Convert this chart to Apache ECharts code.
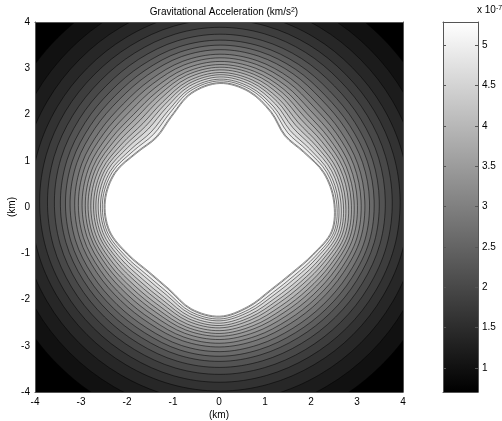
<!DOCTYPE html>
<html>
<head>
<meta charset="utf-8">
<script src="https://cdn.jsdelivr.net/npm/echarts@6/dist/echarts.min.js"></script>
<style>html,body{margin:0;padding:0;background:#fff}#c{width:502px;height:421px}</style>
</head>
<body>
<div id="c"></div>
<script>
// ---- data ----
const xTicks = [-4, -3, -2, -1, 0, 1, 2, 3, 4];
const yTicks = [-4, -3, -2, -1, 0, 1, 2, 3, 4];
const colorTicks = [1, 1.5, 2, 2.5, 3, 3.5, 4, 4.5, 5];
const colorRange = [0.70, 5.29];           // colour axis (x 10^-7 km/s^2)
const levels = [1.0, 1.2, 1.4, 1.6, 1.8, 2.0, 2.2, 2.4, 2.6, 2.8, 3.0,
                3.2, 3.4, 3.6, 3.8, 4.0, 4.2, 4.4, 4.6, 4.8, 5.0, 5.2];
// distance (km) of each contour from the body centre, along the axes
const levelRadius = [5.00, 4.64, 4.35, 4.11, 3.92, 3.75, 3.60, 3.47, 3.36, 3.26, 3.16,
                     3.08, 3.00, 2.93, 2.87, 2.81, 2.75, 2.70, 2.65, 2.60, 2.56, 2.52];
// how much of the body outline each contour still follows (1 = hugs body, 0 = circle)
const shapeWeight = [0.02, 0.03, 0.05, 0.07, 0.10, 0.13, 0.16, 0.20, 0.25, 0.29, 0.34,
                     0.39, 0.44, 0.50, 0.56, 0.62, 0.68, 0.74, 0.80, 0.87, 0.93, 1.00];
const bodyCenter = [0.02, 0.13];
const bodyAxisRadius = 2.5;
const bodyAngles = [0, 15, 30, 45, 60, 75, 90, 105, 120, 135, 150, 165,
                    180, 195, 210, 225, 240, 255, 270, 285, 300, 315, 330, 345];
const bodyRadius = [2.47, 2.33, 2.10, 1.99, 2.21, 2.44, 2.54, 2.40, 2.10, 1.94, 2.08, 2.35,
                    2.49, 2.48, 2.30, 2.17, 2.20, 2.41, 2.49, 2.36, 2.21, 2.20, 2.32, 2.51];

const FONT = '"Liberation Sans", Arial, Helvetica, sans-serif';
const chart = echarts.init(document.getElementById('c'));

function grayOf(v) {
  const t = (v - colorRange[0]) / (colorRange[1] - colorRange[0]);
  const c = Math.round(255 * Math.max(0, Math.min(1, t)));
  return 'rgb(' + c + ',' + c + ',' + c + ')';
}
function ringPoints(api, radiusAt) {
  return bodyAngles.map(function (a, j) {
    const t = a * Math.PI / 180;
    const r = radiusAt(j);
    return api.coord([bodyCenter[0] + r * Math.cos(t), bodyCenter[1] + r * Math.sin(t)]);
  });
}
const frameLine = { show: true, onZero: false, lineStyle: { color: '#555', width: 1 } };

const option = {
  animation: false,
  backgroundColor: '#fff',
  textStyle: { fontFamily: FONT },
  title: {
    text: 'Gravitational Acceleration (km/s{sup|2})',
    left: 219, top: 2, textAlign: 'center',
    textStyle: {
      fontSize: 10, fontWeight: 'normal', color: '#000', fontFamily: FONT,
      rich: { sup: { fontSize: 7, verticalAlign: 'top', lineHeight: 8, fontFamily: FONT, color: '#000' } }
    }
  },
  graphic: [{
    type: 'text', left: 477, top: 5,
    style: {
      text: 'x 10{sup|-7}', fontSize: 10, fontFamily: FONT, fill: '#000',
      rich: { sup: { fontSize: 7, verticalAlign: 'top', lineHeight: 8, fontFamily: FONT, fill: '#000' } }
    }
  }],
  grid: [
    { left: 35, top: 22, width: 368, height: 370, show: true, backgroundColor: '#000', borderWidth: 0,
      containLabel: false, outerBoundsMode: 'none' },
    { left: 443, top: 22, width: 35, height: 370, show: false, containLabel: false, outerBoundsMode: 'none' }
  ],
  xAxis: [
    { gridIndex: 0, type: 'value', min: xTicks[0], max: xTicks[xTicks.length - 1], interval: 1,
      position: 'bottom', name: '(km)', nameLocation: 'middle', nameGap: 18, nameMoveOverlap: false,
      nameTextStyle: { fontSize: 10, color: '#000', fontFamily: FONT },
      axisLine: frameLine, axisTick: { show: false },
      axisLabel: { fontSize: 10, color: '#000', margin: 5, fontFamily: FONT },
      splitLine: { show: false }, z: 10 },
    { gridIndex: 0, type: 'value', min: -4, max: 4, position: 'top',
      axisLine: frameLine, axisTick: { show: false }, axisLabel: { show: false }, splitLine: { show: false }, z: 10 },
    { gridIndex: 1, type: 'value', min: 0, max: 1, position: 'bottom',
      axisLine: frameLine, axisTick: { show: false }, axisLabel: { show: false }, splitLine: { show: false }, z: 10 },
    { gridIndex: 1, type: 'value', min: 0, max: 1, position: 'top',
      axisLine: frameLine, axisTick: { show: false }, axisLabel: { show: false }, splitLine: { show: false }, z: 10 }
  ],
  yAxis: [
    { gridIndex: 0, type: 'value', min: yTicks[0], max: yTicks[yTicks.length - 1], interval: 1,
      position: 'left', name: '(km)', nameLocation: 'middle', nameGap: 18, nameRotate: 90, nameMoveOverlap: false,
      nameTextStyle: { fontSize: 10, color: '#000', fontFamily: FONT },
      axisLine: frameLine, axisTick: { show: false },
      axisLabel: { fontSize: 10, color: '#000', margin: 5, fontFamily: FONT },
      splitLine: { show: false }, z: 10 },
    { gridIndex: 0, type: 'value', min: -4, max: 4, position: 'right',
      axisLine: frameLine, axisTick: { show: false }, axisLabel: { show: false }, splitLine: { show: false }, z: 10 },
    { gridIndex: 1, type: 'value', min: colorRange[0], max: colorRange[1], position: 'left',
      axisLine: frameLine,
      axisTick: { show: true, inside: true, length: 3, customValues: colorTicks, lineStyle: { color: '#555' } },
      axisLabel: { show: false }, splitLine: { show: false }, z: 10 },
    { gridIndex: 1, type: 'value', min: colorRange[0], max: colorRange[1], position: 'right',
      axisLine: frameLine,
      axisTick: { show: true, inside: true, length: 3, customValues: colorTicks, lineStyle: { color: '#555' } },
      axisLabel: { show: true, customValues: colorTicks, fontSize: 10, color: '#000', margin: 4, fontFamily: FONT,
                   formatter: function (v) { return String(v); } },
      splitLine: { show: false }, z: 10 }
  ],
  series: [
    {
      type: 'custom', name: 'contours', coordinateSystem: 'cartesian2d',
      xAxisIndex: 0, yAxisIndex: 0, clip: true, silent: true,
      data: levels.map(function (L, i) { return [i, L]; }),
      renderItem: function (params, api) {
        const k = params.dataIndex;
        const pts = ringPoints(api, function (j) {
          return levelRadius[k] + (bodyRadius[j] - bodyAxisRadius) * shapeWeight[k];
        });
        return {
          type: 'polygon', z2: k,
          shape: { points: pts, smooth: 0.34 },
          style: { fill: grayOf(levels[k]), stroke: '#000', lineWidth: 0.5 }
        };
      }
    },
    {
      type: 'custom', name: 'body', coordinateSystem: 'cartesian2d',
      xAxisIndex: 0, yAxisIndex: 0, clip: true, silent: true, z: 3,
      data: [[0, 0]],
      renderItem: function (params, api) {
        const pts = ringPoints(api, function (j) { return bodyRadius[j]; });
        return {
          type: 'polygon',
          shape: { points: pts, smooth: 0.34 },
          style: { fill: '#fff', stroke: '#444', lineWidth: 0.6 }
        };
      }
    },
    {
      type: 'custom', name: 'colorbar', coordinateSystem: 'cartesian2d',
      xAxisIndex: 2, yAxisIndex: 2, silent: true,
      data: [[0, colorRange[0]]],
      renderItem: function (params, api) {
        const p0 = api.coord([0, colorRange[0]]);
        const p1 = api.coord([1, colorRange[1]]);
        return {
          type: 'rect',
          shape: { x: p0[0], y: p1[1], width: p1[0] - p0[0], height: p0[1] - p1[1] },
          style: {
            fill: new echarts.graphic.LinearGradient(0, 1, 0, 0, [
              { offset: 0, color: '#000' }, { offset: 1, color: '#fff' }
            ])
          }
        };
      }
    }
  ]
};
chart.setOption(option);
</script>
</body>
</html>
